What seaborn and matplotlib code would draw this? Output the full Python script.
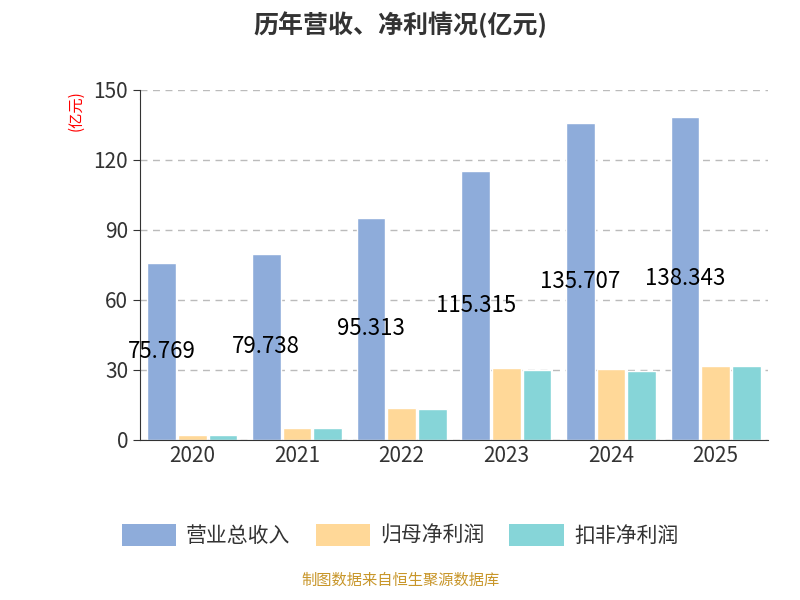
import matplotlib
matplotlib.use("Agg")
import matplotlib.pyplot as plt
import seaborn as sns
import pandas as pd

years = ["2020", "2021", "2022", "2023", "2024", "2025"]
revenue = [75.769, 79.738, 95.313, 115.315, 135.707, 138.343]
net_profit = [2.1, 5.2, 13.6, 31.0, 30.2, 31.8]
deducted_profit = [2.0, 5.0, 13.4, 30.0, 29.6, 31.5]
series = ["营业总收入", "归母净利润", "扣非净利润"]
colors = ["#8EACDA", "#FFD898", "#86D5D8"]

df = pd.DataFrame({
    "year": years * 3,
    "value": revenue + net_profit + deducted_profit,
    "series": [s for s in series for _ in years],
})

sns.set_style("white")
plt.rcParams['font.family'] = ['Noto Sans CJK SC', 'DejaVu Sans']

fig = plt.figure(figsize=(8, 6), dpi=100)
ax = fig.add_axes([0.175, 0.267, 0.785, 0.583])

sns.barplot(data=df, x="year", y="value", hue="series", palette=colors,
            width=0.88, gap=0.06, saturation=1, ax=ax, legend=False)

# value labels on revenue bars, centred at half height
for i, v in enumerate(revenue):
    x = ax.patches[i].get_x() + ax.patches[i].get_width() / 2
    ax.text(x, v / 2, f"{v:.3f}", ha="center", va="center", fontsize=16, color="black")

ax.set_ylim(0, 150)
ax.set_yticks(range(0, 151, 30))
ax.set_xlim(-0.5, 5.5)
ax.set_xlabel("")
ax.set_ylabel("")
ax.yaxis.grid(True, linestyle=(0, (5, 4)), color="#bbbbbb", linewidth=1)
ax.set_axisbelow(True)
for s in ["top", "right"]:
    ax.spines[s].set_visible(False)
for s in ["left", "bottom"]:
    ax.spines[s].set_color("#333333")
ax.tick_params(axis="both", labelsize=15, colors="#333333", length=5, direction="out",
               left=True, bottom=True)
ax.set_xticks([i + 0.5 for i in range(-1, 6)], minor=True)
ax.tick_params(axis="x", which="major", length=0)
ax.tick_params(axis="x", which="minor", length=6, color="#333333")

fig.text(0.095, 0.85, "(亿元)", rotation=90, color="red", fontsize=11, ha="center", va="top")
fig.text(0.5, 0.958, "历年营收、净利情况(亿元)", ha="center", va="center",
         fontsize=18, fontweight="bold", color="#333333")

handles = [plt.Rectangle((0, 0), 1, 1, facecolor=c, edgecolor="none") for c in colors]
fig.legend(handles, series, loc="center", bbox_to_anchor=(0.5, 0.108), ncol=3,
           frameon=False, fontsize=15, handlelength=2.6, handleheight=1.3,
           columnspacing=1.2, handletextpad=0.5, labelcolor="#333333")

fig.text(0.5, 0.018, "制图数据来自恒生聚源数据库", ha="center", va="bottom",
         fontsize=11, color="#C8962A")

fig.savefig("out.png", dpi=100)
